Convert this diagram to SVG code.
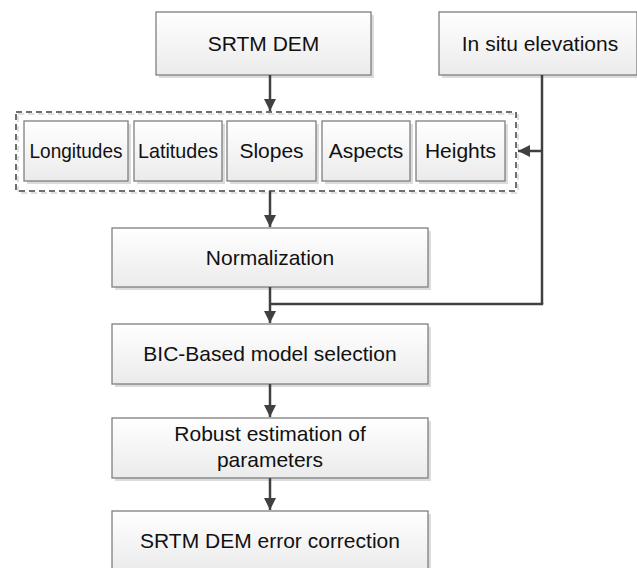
<svg xmlns="http://www.w3.org/2000/svg" width="637" height="568" viewBox="0 0 637 568">
<defs>
<linearGradient id="g" x1="0" y1="0" x2="0" y2="1">
<stop offset="0" stop-color="#ffffff"/>
<stop offset="1" stop-color="#ebebeb"/>
</linearGradient>
<marker id="ah" markerWidth="14" markerHeight="14" refX="12" refY="6" orient="auto" markerUnits="userSpaceOnUse">
<path d="M0,0 L12,6 L0,12 Z" fill="#404040"/>
</marker>
<style>
.sh{fill:#dcdcdc;}
.bx{fill:url(#g);stroke:#7f7f7f;stroke-width:1.3;}
.t{font-family:"Liberation Sans",Arial,sans-serif;font-size:21px;fill:#111;text-anchor:middle;}
.c{fill:none;stroke:#404040;stroke-width:2.5;}
.d{fill:none;stroke:#404040;stroke-width:1.5;stroke-dasharray:6 4;}
.ds{fill:none;stroke:#e0e0e0;stroke-width:2;stroke-dasharray:6 4;}
</style>
</defs>
<rect width="637" height="568" fill="#fff"/>

<g id="srtm">
<rect class="sh" x="159" y="15" width="215" height="63"/>
<rect class="bx" x="156" y="12" width="215" height="63"/>
<text class="t" x="263.5" y="51">SRTM DEM</text>
</g>
<g id="insitu">
<rect class="sh" x="442" y="15" width="198" height="63"/>
<rect class="bx" x="439" y="12" width="198" height="63"/>
<text class="t" x="540" y="51">In situ elevations</text>
</g>

<g id="group">
<rect class="ds" x="18" y="114" width="500" height="79"/>
<rect class="d" x="16" y="112" width="500" height="79"/>
</g>
<g id="longitudes">
<rect class="sh" x="27" y="124" width="104" height="60"/>
<rect class="bx" x="24" y="121" width="104" height="60"/>
<text class="t" x="76" y="158" textLength="93" lengthAdjust="spacingAndGlyphs">Longitudes</text>
</g>
<g id="latitudes">
<rect class="sh" x="137" y="124" width="88" height="60"/>
<rect class="bx" x="134" y="121" width="88" height="60"/>
<text class="t" x="178" y="158" textLength="80" lengthAdjust="spacingAndGlyphs">Latitudes</text>
</g>
<g id="slopes">
<rect class="sh" x="230" y="124" width="89" height="60"/>
<rect class="bx" x="227" y="121" width="89" height="60"/>
<text class="t" x="271.5" y="158">Slopes</text>
</g>
<g id="aspects">
<rect class="sh" x="325" y="124" width="88" height="60"/>
<rect class="bx" x="322" y="121" width="88" height="60"/>
<text class="t" x="366" y="158">Aspects</text>
</g>
<g id="heights">
<rect class="sh" x="419" y="124" width="89" height="60"/>
<rect class="bx" x="416" y="121" width="89" height="60"/>
<text class="t" x="460.5" y="158">Heights</text>
</g>

<g id="normalization">
<rect class="sh" x="115" y="231" width="316" height="59"/>
<rect class="bx" x="112" y="228" width="316" height="59"/>
<text class="t" x="270" y="265">Normalization</text>
</g>
<g id="bic">
<rect class="sh" x="115" y="327" width="316" height="60"/>
<rect class="bx" x="112" y="324" width="316" height="60"/>
<text class="t" x="270" y="361">BIC-Based model selection</text>
</g>
<g id="robust">
<rect class="sh" x="115" y="421" width="316" height="60"/>
<rect class="bx" x="112" y="418" width="316" height="60"/>
<text class="t" x="270" y="441">Robust estimation of</text>
<text class="t" x="270" y="467">parameters</text>
</g>
<g id="correction">
<rect class="sh" x="115" y="514" width="316" height="60"/>
<rect class="bx" x="112" y="511" width="316" height="60"/>
<text class="t" x="270" y="548">SRTM DEM error correction</text>
</g>

<g id="connectors">
<line class="c" x1="270" y1="75" x2="270" y2="111" marker-end="url(#ah)"/>
<line class="c" x1="542" y1="75" x2="542" y2="304"/>
<line class="c" x1="542" y1="151" x2="518" y2="151" marker-end="url(#ah)"/>
<line class="c" x1="270" y1="191" x2="270" y2="227" marker-end="url(#ah)"/>
<line class="c" x1="270" y1="287" x2="270" y2="323" marker-end="url(#ah)"/>
<polyline class="c" points="543.2,304 270,304"/>
<line class="c" x1="270" y1="384" x2="270" y2="417" marker-end="url(#ah)"/>
<line class="c" x1="270" y1="478" x2="270" y2="510" marker-end="url(#ah)"/>
</g>
</svg>
